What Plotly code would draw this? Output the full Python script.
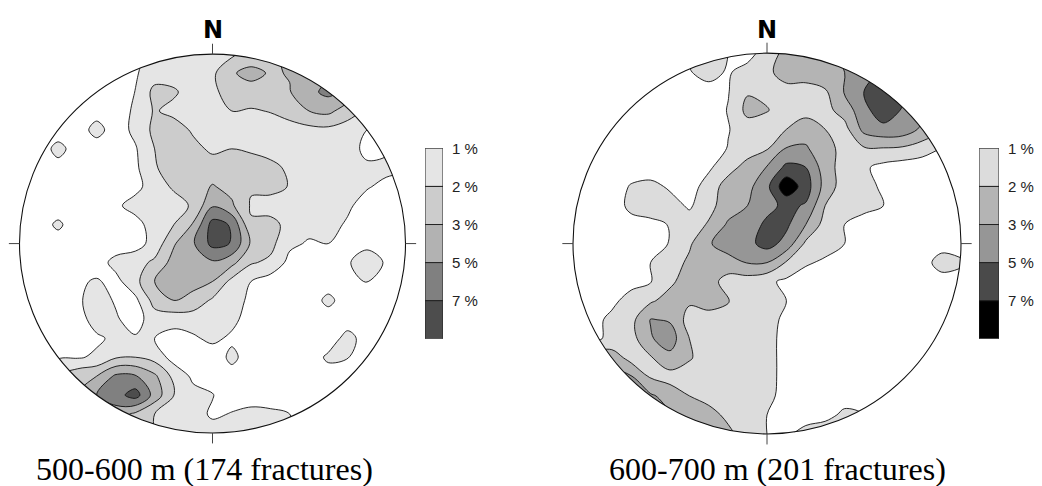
import numpy as np
import plotly.graph_objects as go

# ---------------- data (density of poles, %) ----------------
# grid nodes in stereonet units (-1 .. 1), rows listed from north (top) to south
GRID_X = [round(-1 + 0.1 * k, 2) for k in range(21)]
GRID_Y_TOP_DOWN = [round(1 - 0.1 * k, 2) for k in range(21)]

LEFT_DENSITY = [
    [0.4,0.4,0.4,0.4,0.4,0.4,0.6,1.5,1.5,1.5,1.6,1.8,2.4,2.8,3.5,4.0,4.5,4.0,3.0,2.0,1.5],
    [0.4,0.4,0.4,0.4,0.4,0.5,0.9,1.5,1.5,1.5,1.8,2.9,3.6,2.9,3.1,4.0,4.5,4.3,3.0,2.0,1.5],
    [0.4,0.4,0.4,0.4,0.4,0.4,1.02,2.3,2.15,1.5,1.7,2.6,2.6,2.6,2.95,4.5,5.5,4.3,2.5,1.8,1.5],
    [0.4,0.4,0.4,0.4,0.6,0.4,1.2,2.1,1.7,1.5,1.8,2.0,1.9,2.05,2.4,3.0,3.5,2.5,1.8,1.5,1.5],
    [0.4,0.4,0.4,0.5,1.35,0.5,1.25,2.25,2.5,1.85,1.5,1.5,1.5,1.5,1.6,1.7,1.75,1.5,1.0,0.7,1.0],
    [0.4,0.4,1.35,0.5,0.5,0.4,0.9,2.0,2.5,2.3,1.8,2.0,1.85,1.6,1.5,1.5,1.5,1.5,0.7,0.8,1.5],
    [0.4,0.4,0.6,0.4,0.4,0.4,0.8,1.9,2.5,2.5,2.5,2.5,2.5,2.3,1.8,1.5,1.5,1.5,1.2,1.3,1.2],
    [0.4,0.4,0.4,0.4,0.4,0.4,0.7,1.5,2.15,2.5,3.15,2.7,2.1,2.3,1.95,1.5,1.5,1.5,1.1,0.7,0.5],
    [0.4,0.4,0.4,0.4,0.4,0.8,1.4,1.5,1.55,2.15,4.8,3.3,1.9,1.6,1.5,1.5,1.5,1.2,0.5,0.4,0.4],
    [0.4,0.5,1.2,0.4,0.4,0.5,0.6,1.5,2.0,3.2,7.8,6.8,2.1,2.3,1.7,1.3,1.4,0.85,0.4,0.4,0.4],
    [0.4,0.4,0.5,0.4,0.4,0.4,0.6,1.35,2.9,4.8,7.6,6.9,2.85,2.3,1.2,0.9,1.0,0.5,0.75,0.4,0.4],
    [0.4,0.4,0.4,0.4,0.5,1.35,1.6,2.2,3.8,4.4,4.7,3.6,2.1,1.8,0.7,0.4,0.4,0.9,1.5,0.9,0.5],
    [0.4,0.4,0.4,0.85,1.1,0.7,1.7,3.0,4.0,3.8,3.0,1.7,1.0,0.5,0.4,0.4,0.4,0.6,1.05,0.5,0.4],
    [0.4,0.4,0.4,0.85,1.4,0.9,0.75,2.4,3.0,2.6,1.85,1.4,0.8,0.4,0.4,0.4,1.3,0.4,0.4,0.4,0.4],
    [0.4,0.4,0.4,0.6,1.4,1.1,0.6,1.5,1.4,1.5,1.6,1.3,0.5,0.4,0.4,0.4,0.4,0.4,0.8,0.4,0.4],
    [0.4,0.4,0.4,0.4,0.85,1.2,1.1,1.0,0.6,0.85,1.25,0.8,0.4,0.4,0.4,0.4,0.4,1.4,0.5,0.4,0.4],
    [0.4,0.4,0.9,0.9,1.15,1.9,2.0,1.6,0.6,0.4,0.4,1.25,0.5,0.4,0.4,0.4,1.2,1.05,0.4,0.4,0.4],
    [0.4,1.0,2.0,2.7,3.0,5.4,5.2,3.4,1.7,0.8,0.4,0.6,0.4,0.4,0.4,0.4,0.5,0.4,0.4,0.4,0.4],
    [0.4,0.8,2.0,3.0,5.0,6.2,7.9,4.2,2.0,1.3,1.05,0.6,0.5,0.5,0.5,0.4,0.4,0.4,0.4,0.4,0.4],
    [0.4,0.6,1.5,2.5,3.5,4.0,2.8,2.0,1.5,1.4,0.85,1.05,1.3,1.2,1.0,0.6,0.4,0.4,0.4,0.4,0.4],
    [0.4,0.4,1.0,1.8,2.5,2.8,2.5,2.0,1.6,1.5,1.4,1.5,1.4,1.3,1.1,0.6,0.4,0.4,0.4,0.4,0.4],
]

RIGHT_DENSITY = [
    [0.4,0.4,0.4,0.4,0.4,0.6,1.1,1.3,1.0,0.6,1.5,2.3,2.6,2.8,3.5,4.5,5.0,4.5,3.5,2.5,1.5],
    [0.4,0.4,0.4,0.4,0.4,0.6,0.95,1.3,0.9,1.4,1.8,2.4,2.5,2.5,3.0,4.5,5.0,4.5,3.5,2.0,1.5],
    [0.4,0.4,0.4,0.4,0.4,0.4,0.5,0.7,0.95,1.9,1.8,1.7,1.6,1.9,3.2,5.0,5.2,5.5,4.0,2.5,1.5],
    [0.4,0.4,0.4,0.4,0.4,0.4,0.4,0.5,1.05,2.3,2.05,1.6,1.6,1.7,2.4,4.4,6.2,4.8,3.5,2.0,1.5],
    [0.4,0.4,0.4,0.4,0.4,0.4,0.4,0.4,0.95,1.5,1.5,2.0,2.6,2.0,1.65,3.6,4.4,4.2,2.8,2.0,1.5],
    [0.4,0.4,0.4,0.4,0.4,0.4,0.4,0.45,1.05,1.5,1.9,3.1,3.2,2.45,1.6,1.9,1.95,1.85,1.5,1.0,0.8],
    [0.4,0.4,0.4,0.4,0.4,0.4,0.4,0.85,1.6,2.4,3.1,5.5,5.0,2.5,1.5,1.15,0.7,0.5,0.4,0.4,0.4],
    [0.4,0.4,0.4,1.1,1.3,0.85,0.6,1.4,2.5,2.7,4.5,8.5,6.0,2.6,1.5,1.5,0.75,0.4,0.4,0.4,0.4],
    [0.4,0.4,0.4,1.3,1.5,1.4,0.85,1.7,2.5,3.0,4.4,5.5,4.8,2.0,1.5,1.3,1.0,0.4,0.4,0.4,0.4],
    [0.4,0.4,0.4,0.6,0.75,1.05,1.5,2.1,3.3,4.0,5.4,5.4,3.0,1.6,1.0,0.6,0.4,0.4,0.4,0.4,0.4],
    [0.4,0.4,0.4,0.4,0.6,1.05,1.85,2.9,4.0,4.4,5.8,4.3,1.8,1.5,1.0,0.4,0.4,0.4,0.4,0.6,0.4],
    [0.4,0.4,0.4,0.4,1.0,1.5,2.2,2.6,2.6,3.1,3.0,1.9,1.15,0.8,0.4,0.4,0.4,0.4,0.6,1.4,1.2],
    [0.4,0.4,0.4,0.6,0.95,1.8,2.5,2.4,1.6,1.5,1.2,0.8,0.4,0.4,0.4,0.4,0.4,0.4,0.4,0.6,0.5],
    [0.4,0.4,0.7,1.5,1.85,2.4,2.15,2.4,2.05,1.5,1.5,1.0,0.4,0.4,0.4,0.4,0.4,0.4,0.4,0.4,0.4],
    [0.4,0.6,1.3,1.7,3.1,2.9,1.6,1.6,1.7,1.5,1.4,0.75,0.4,0.4,0.4,0.4,0.4,0.4,0.4,0.4,0.4],
    [0.4,0.8,1.2,1.6,2.9,4.0,2.0,1.5,1.5,1.5,1.3,0.7,0.4,0.4,0.4,0.4,0.4,0.4,0.4,0.4,0.4],
    [0.4,2.5,2.6,1.6,1.9,2.7,2.1,1.5,1.5,1.5,1.3,0.7,0.4,0.4,0.4,0.4,0.4,0.4,0.4,0.4,0.4],
    [1.0,3.5,3.6,3.2,1.9,1.6,1.5,1.5,1.5,1.5,1.3,0.7,0.4,0.4,0.4,0.4,0.4,0.4,0.4,0.4,0.4],
    [0.4,2.5,4.0,4.0,3.3,2.6,2.0,1.7,1.5,1.5,1.3,0.6,0.4,0.4,0.6,0.4,0.4,0.4,0.4,0.4,0.4],
    [0.4,1.0,2.5,4.0,3.8,3.2,2.6,2.3,1.8,1.5,1.0,0.4,0.5,0.7,1.2,1.0,0.5,0.4,0.4,0.4,0.4],
    [0.4,0.4,1.0,2.0,3.0,3.0,2.9,2.6,2.2,1.6,1.0,0.8,1.4,1.6,1.5,1.0,0.4,0.4,0.4,0.4,0.4],
]

CONTOUR_LEVELS_PCT = [1, 2, 3, 5, 7]
LEVEL_LABELS = ["1 %", "2 %", "3 %", "5 %", "7 %"]
LEFT_SHADES = ["#ffffff", "#e5e5e5", "#cccccc", "#b2b2b2", "#808080", "#4d4d4d"]
RIGHT_SHADES = ["#ffffff", "#dcdcdc", "#b4b4b4", "#969696", "#4a4a4a", "#000000"]
TITLES = ["500-600 m (174 fractures)", "600-700 m (201 fractures)"]

# ---------------- layout geometry (pixels) ----------------
W, H = 1042, 486
PANELS = [
    dict(cx=212.5, cy=239.0, r=193.0, title_x=204.0, cb_x=(425.0, 443.0)),
    dict(cx=767.0, cy=239.0, r=194.0, title_x=777.5, cb_x=(979.0, 999.0)),
]
SPAN = 1.07
CB_Y = (142.0, 336.0)
TITLE_Y = 469.0
NORTH_Y = 21.0

# map density (%) onto equally spaced contour indices (1,2,3,4,5 <-> 1,2,3,5,7 %)
def to_level_index(z):
    z = np.asarray(z, dtype=float)
    return np.interp(z, [0, 1, 2, 3, 5, 7, 12], [0, 1, 2, 3, 4, 5, 7.5])

def shade_scale(shades):
    n = len(shades) - 1
    return [[i / n, c] for i, c in enumerate(shades)]

fig = go.Figure()
densities = [LEFT_DENSITY, RIGHT_DENSITY]
shades_all = [LEFT_SHADES, RIGHT_SHADES]
grid_y = GRID_Y_TOP_DOWN[::-1]

theta = np.linspace(0, 2 * np.pi, 361)
circle_pts = " L ".join(f"{np.cos(t):.5f},{np.sin(t):.5f}" for t in theta[1:])
mask_path = (f"M -1.2,-1.2 L 1.2,-1.2 L 1.2,1.2 L -1.2,1.2 Z "
             f"M {np.cos(0):.5f},{np.sin(0):.5f} L {circle_pts} Z")

shapes, annotations = [], []
layout_axes = {}

for k, (p, dens, shades) in enumerate(zip(PANELS, densities, shades_all)):
    ax_suffix = "" if k == 0 else str(k + 1)
    xa, ya = "x" + ax_suffix, "y" + ax_suffix
    z = to_level_index(dens)[::-1]
    fig.add_trace(go.Contour(
        x=GRID_X, y=grid_y, z=z,
        autocontour=False,
        contours=dict(start=1, end=5, size=1, coloring="fill", showlines=True),
        colorscale=shade_scale(shades), showscale=False,
        line=dict(color="#111111", width=0.9, smoothing=1.0),
        hoverinfo="skip", xaxis=xa, yaxis=ya,
    ))
    half = SPAN * p["r"]
    xdom = [(p["cx"] - half) / W, (p["cx"] + half) / W]
    ydom = [(H - (p["cy"] + half)) / H, (H - (p["cy"] - half)) / H]
    layout_axes["xaxis" + ax_suffix] = dict(domain=xdom, range=[-SPAN, SPAN], visible=False,
                                            fixedrange=True, anchor=ya)
    layout_axes["yaxis" + ax_suffix] = dict(domain=ydom, range=[-SPAN, SPAN], visible=False,
                                            fixedrange=True, anchor=xa)
    # white mask outside the primitive circle
    shapes.append(dict(type="path", path=mask_path, xref=xa, yref=ya,
                       fillcolor="white", fillrule="evenodd",
                       line=dict(width=0), layer="above"))
    shapes.append(dict(type="circle", xref=xa, yref=ya, x0=-1, y0=-1, x1=1, y1=1,
                       line=dict(color="#111111", width=1.1), layer="above"))
    tk = 0.055
    for (x0, y0, x1, y1) in [(-1 - tk, 0, -1, 0), (1, 0, 1 + tk, 0),
                             (0, 1, 0, 1 + tk), (0, -1, 0, -1 - tk)]:
        shapes.append(dict(type="line", xref=xa, yref=ya, x0=x0, y0=y0, x1=x1, y1=y1,
                           line=dict(color="#444444", width=1), layer="above"))
    annotations.append(dict(xref="paper", yref="paper", x=p["cx"] / W, y=(H - NORTH_Y) / H,
                            text="<b>N</b>", showarrow=False,
                            font=dict(family="DejaVu Sans", size=24, color="#000000"),
                            xanchor="center", yanchor="middle"))
    annotations.append(dict(xref="paper", yref="paper", x=p["title_x"] / W,
                            y=(H - TITLE_Y) / H, text=TITLES[k], showarrow=False,
                            font=dict(family="Liberation Serif", size=32, color="#000000"),
                            xanchor="center", yanchor="middle"))

    # legend bar (stacked boxes, 1 % at top)
    cb_suffix = str(k + 3)
    cbx, cby = "x" + cb_suffix, "y" + cb_suffix
    n = len(CONTOUR_LEVELS_PCT)
    fig.add_trace(go.Bar(
        x=[0] * n, y=[1] * n, base=list(range(n)), width=1,
        marker=dict(color=shades[1:], line=dict(color="#222222", width=1)),
        hoverinfo="skip", showlegend=False, xaxis=cbx, yaxis=cby,
    ))
    layout_axes["xaxis" + cb_suffix] = dict(
        domain=[p["cb_x"][0] / W, p["cb_x"][1] / W], range=[-0.5, 0.5],
        visible=False, fixedrange=True, anchor=cby)
    layout_axes["yaxis" + cb_suffix] = dict(
        domain=[(H - CB_Y[1]) / H, (H - CB_Y[0]) / H], range=[n, 0],
        anchor=cbx, side="right", showgrid=False, zeroline=False, showline=False,
        ticks="", tickvals=list(range(n)), ticktext=LEVEL_LABELS,
        ticklabelstandoff=8,
        tickfont=dict(family="Liberation Sans", size=15, color="#222222"),
        fixedrange=True)

fig.update_layout(
    width=W, height=H, margin=dict(l=0, r=0, t=0, b=0),
    paper_bgcolor="white", plot_bgcolor="rgba(0,0,0,0)",
    showlegend=False, barmode="overlay",
    shapes=shapes, annotations=annotations, **layout_axes,
)

fig.write_html("out.html", config={"displayModeBar": False})
